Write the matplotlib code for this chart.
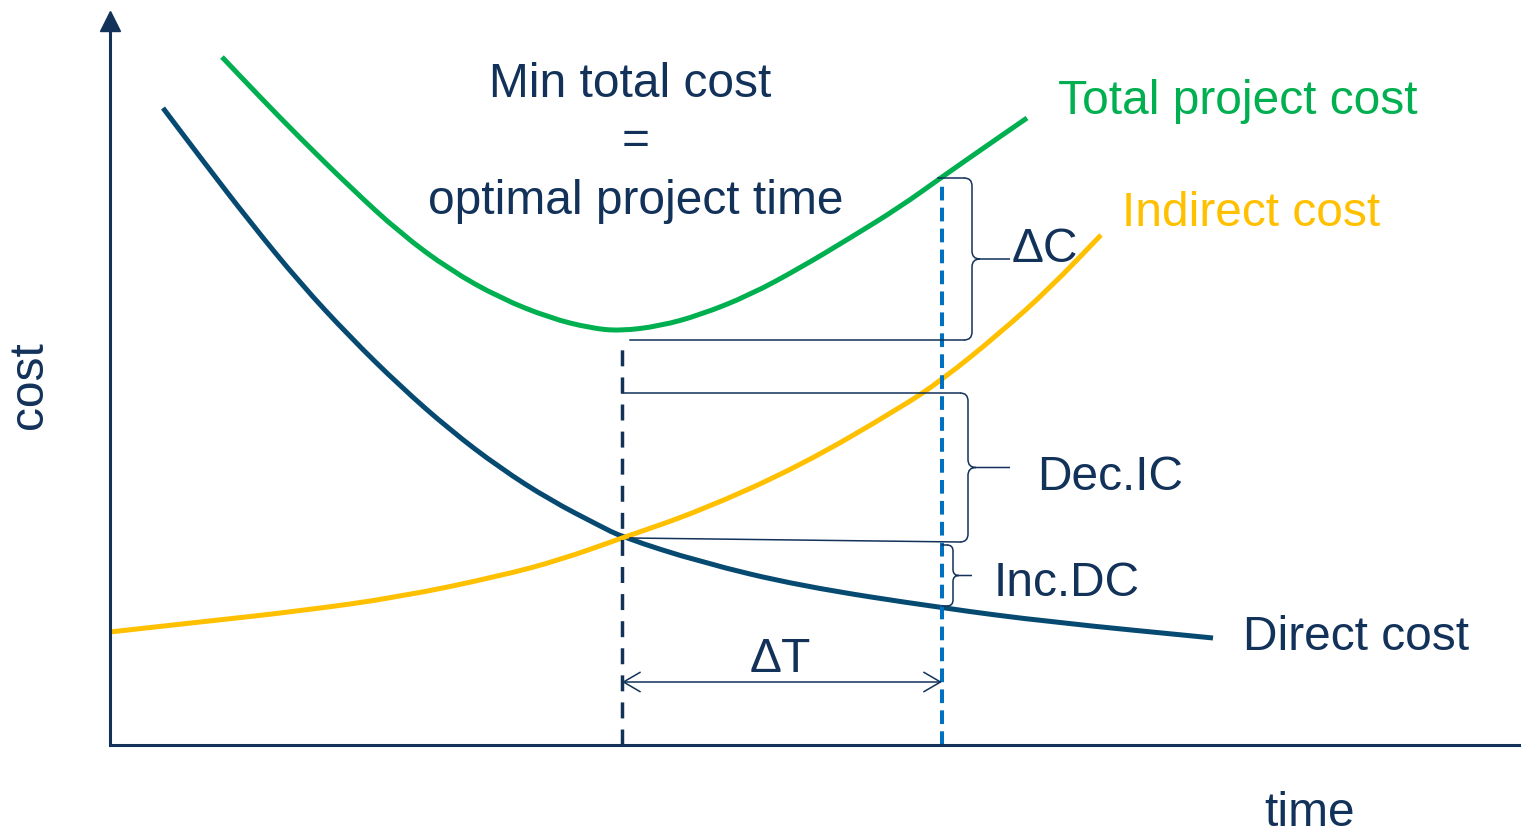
import numpy as np
import matplotlib
matplotlib.use("Agg")
import matplotlib.pyplot as plt
from matplotlib.path import Path
from matplotlib.patches import PathPatch

plt.rcParams['font.family'] = ['Liberation Sans', 'DejaVu Sans']

# cost curves (time, cost) in arbitrary units
direct_t = [53, 90, 140, 190, 240, 290, 340, 390, 440, 490, 512, 590, 690, 832,
            940, 1103]
direct_c = [637, 588, 523, 462, 408, 359, 315, 277, 245, 219, 208, 183, 159, 137,
            123, 107]

total_t = [112, 150, 190, 240, 290, 340, 390, 440, 480, 510, 550, 590, 640, 690,
           740, 790, 832, 875, 917]
total_c = [688, 648, 607, 558, 512, 475, 447, 427, 417, 414, 419, 430, 450, 477,
           507, 538, 568, 598, 627]

indirect_t = [0, 90, 190, 290, 390, 450, 512, 590, 690, 790, 832, 890, 940, 991]
indirect_c = [113, 123, 134, 148, 169, 185, 207, 234, 279, 337, 365, 412, 457, 510]

t_opt = 512      # optimal project time
t_crash = 832    # shortened project time
c_min = 405      # min total cost
c_crash = 560

navy = '#12325a'
dblue = '#064a72'
green = '#00b050'
yellow = '#ffc000'
blue = '#0070c0'
fs = 34.5

fig = plt.figure(figsize=(15.21, 8.35), dpi=100)
ax = fig.add_axes([110 / 1521, 90 / 835, 1411 / 1521, 735 / 835])
ax.set_xlim(0, 1411)
ax.set_ylim(0, 735)
ax.set_xticks([])
ax.set_yticks([])
for s in ['top', 'right']:
    ax.spines[s].set_visible(False)
for s in ['left', 'bottom']:
    ax.spines[s].set_color(navy)
    ax.spines[s].set_linewidth(2.2)
ax.spines['left'].set_bounds(0, 722)
ax.spines['bottom'].set_bounds(3, 1411)
ax.plot([0], [724], marker='^', markersize=14, color=navy, clip_on=False)


def smooth_curve(t, c, color):
    # quadratic b-spline through the midpoints, points act as controls
    pts = np.column_stack([t, c]).astype(float)
    mids = (pts[:-1] + pts[1:]) / 2
    verts = [pts[0], mids[0]]
    codes = [Path.MOVETO, Path.LINETO]
    for i in range(1, len(pts) - 1):
        verts += [pts[i], mids[i]]
        codes += [Path.CURVE3, Path.CURVE3]
    verts.append(pts[-1])
    codes.append(Path.LINETO)
    ax.add_patch(PathPatch(Path(verts, codes), fill=False, color=color,
                           lw=3.6, capstyle='butt'))


smooth_curve(direct_t, direct_c, dblue)
smooth_curve(total_t, total_c, green)
smooth_curve(indirect_t, indirect_c, yellow)

# vertical dashed lines
ax.plot([t_opt, t_opt], [0, c_min], color=navy, lw=2.5, dashes=(4.6, 3.2))
ax.plot([t_crash, t_crash], [0, c_crash], color=blue, lw=2.9, dashes=(3.4, 1.8))

thin = dict(color=navy, lw=1.1)


def brace(xv, ylo, yhi, xtip, r=8):
    ym = (ylo + yhi) / 2
    verts = [(xv - r, yhi), (xv, yhi), (xv, yhi - r),
             (xv, ym + r),
             (xv, ym), (xv + r, ym),
             (xtip, ym),
             (xv + r, ym), (xv, ym), (xv, ym - r),
             (xv, ylo + r),
             (xv, ylo), (xv - r, ylo)]
    codes = [Path.MOVETO, Path.CURVE3, Path.CURVE3,
             Path.LINETO,
             Path.CURVE3, Path.CURVE3,
             Path.LINETO,
             Path.MOVETO, Path.CURVE3, Path.CURVE3,
             Path.LINETO,
             Path.CURVE3, Path.CURVE3]
    ax.add_patch(PathPatch(Path(verts, codes), fill=False, **thin))


# delta C
ax.plot([828, 854], [567, 567], **thin)
ax.plot([520, 854], [c_min, c_min], **thin)
brace(862, c_min, 567, 900)
ax.text(902, 496, 'ΔC', fontsize=fs, color=navy, va='center', ha='left')

# decrease in indirect cost
ax.plot([t_opt, 850], [352, 352], **thin)
ax.plot([520, 850], [207, 203], **thin)
brace(858, 203, 352, 900)
ax.text(927, 268, 'Dec.IC', fontsize=fs, color=navy, va='center', ha='left')

# increase in direct cost
ax.plot([832, 837], [200, 200], **thin)
ax.plot([832, 837], [139, 139], **thin)
brace(843, 139, 200, 862, r=6)
ax.text(884, 161, 'Inc.DC', fontsize=fs, color=navy, va='center', ha='left')

# delta T
ax.annotate('', xy=(t_opt, 63), xytext=(t_crash, 63),
            arrowprops=dict(arrowstyle='<->,head_length=0.6,head_width=0.35',
                            color=navy, lw=1.1, mutation_scale=20,
                            shrinkA=0, shrinkB=0))
ax.text(670, 85, 'ΔT', fontsize=fs, color=navy, va='center', ha='center')

# labels
ax.text(520, 661, 'Min total cost', fontsize=fs, color=navy, ha='center', va='center')
ax.text(526, 604, '=', fontsize=fs, color=navy, ha='center', va='center')
ax.text(526, 544, 'optimal project time', fontsize=fs, color=navy, ha='center', va='center')
ax.text(948, 644, 'Total project cost', fontsize=fs, color=green, va='center', ha='left')
ax.text(1012, 532, 'Indirect cost', fontsize=fs, color=yellow, va='center', ha='left')
ax.text(1133, 107, 'Direct cost', fontsize=fs, color=navy, va='center', ha='left')

fig.text(30 / 1521, 1 - 385 / 835, 'cost', fontsize=fs, color=navy, rotation=90,
         ha='center', va='center')
fig.text(1310 / 1521, 1 - 813 / 835, 'time', fontsize=fs, color=navy,
         ha='center', va='center')

fig.savefig('out.png', dpi=100)
